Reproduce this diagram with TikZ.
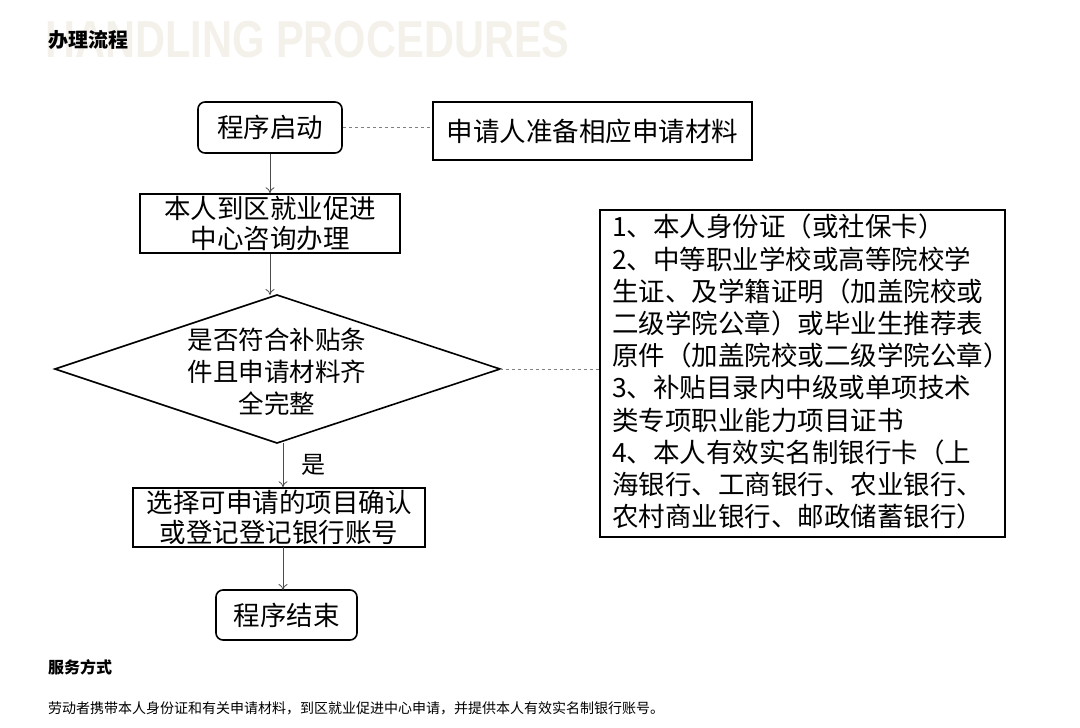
\documentclass[tikz,border=0pt]{standalone}
\usepackage{fontspec}
\setmainfont{Noto Sans CJK SC}
\newfontfamily\wm{Liberation Sans}
\usetikzlibrary{arrows.meta}
\definecolor{wmc}{HTML}{F4F1EA}
\begin{document}
\begin{tikzpicture}[x=1pt,y=-1pt,
  bx/.style={draw,line width=1.6pt,inner sep=0pt,font=\fontsize{26.5}{30}\selectfont,align=center},
  arr/.style={-{To[length=6pt,width=9pt]},gray!60!black,line width=0.8pt},
  dsh/.style={dashed,gray,line width=0.8pt}]
\useasboundingbox (0,0) rectangle (1080,728);
\node[anchor=west,text=wmc,inner sep=0pt,xscale=0.8,font=\wm\bfseries\fontsize{52}{54}\selectfont] (wm) at (45,40) {HANDLING PROCEDURES};
\node[anchor=west,inner sep=0pt,font=\bfseries\fontsize{20}{22}\selectfont] (title) at (48,40) {办理流程};
\node[bx,rounded corners=7pt,minimum width=144pt,minimum height=51pt] (s) at (270,127.5) {程序启动};
\node[bx,minimum width=319pt,minimum height=58pt] (p) at (592.5,131) {申请人准备相应申请材料};
\node[bx,minimum width=260pt,minimum height=59pt] (c) at (270,223.5) {本人到区就业促进\\中心咨询办理};
\draw[line width=1.6pt] (55,369) -- (277,295) -- (500,369) -- (277,443) -- cycle;
\node[font=\fontsize{25.5}{32}\selectfont,align=center] (d) at (277,372) {是否符合补贴条\\件且申请材料齐\\全完整};
\coordinate (dt) at (277,295); \coordinate (db) at (283,443); \coordinate (dr) at (500,369);
\node[draw,line width=1.6pt,minimum width=405pt,minimum height=327pt] (m) at (802.5,373.5) {};
\node[anchor=north west,inner sep=0pt,align=left,font=\fontsize{26.5}{32.2}\selectfont] (mt) at (612,214) {1、本人身份证（或社保卡）\\2、中等职业学校或高等院校学\\生证、及学籍证明（加盖院校或\\二级学院公章）或毕业生推荐表\\原件（加盖院校或二级学院公章）\\3、补贴目录内中级或单项技术\\类专项职业能力项目证书\\4、本人有效实名制银行卡（上\\海银行、工商银行、农业银行、\\农村商业银行、邮政储蓄银行）};
\node[bx,minimum width=292pt,minimum height=59pt] (r) at (279,517.5) {选择可申请的项目确认\\或登记登记银行账号};
\node[bx,rounded corners=7pt,minimum width=141pt,minimum height=50pt] (e) at (286.5,615) {程序结束};
\node[font=\fontsize{24}{26}\selectfont] (yes) at (313,465) {是};
\draw[dsh] (s.east) -- (p.west|-s.east);
\draw[dsh] (dr) -- (m.west|-dr);
\draw[arr] (s.south) -- (s.south|-c.north);
\draw[arr] (c.south) -- (270,295);
\draw[arr] (db) -- (db|-r.north);
\draw[arr] (283,547) -- (283,590);
\node[anchor=west,inner sep=0pt,font=\bfseries\fontsize{16}{18}\selectfont] (fw) at (48,667) {服务方式};
\node[anchor=west,inner sep=0pt,font=\fontsize{14}{16}\selectfont] (txt) at (48,708) {劳动者携带本人身份证和有关申请材料，到区就业促进中心申请，并提供本人有效实名制银行账号。};
\end{tikzpicture}
\end{document}
